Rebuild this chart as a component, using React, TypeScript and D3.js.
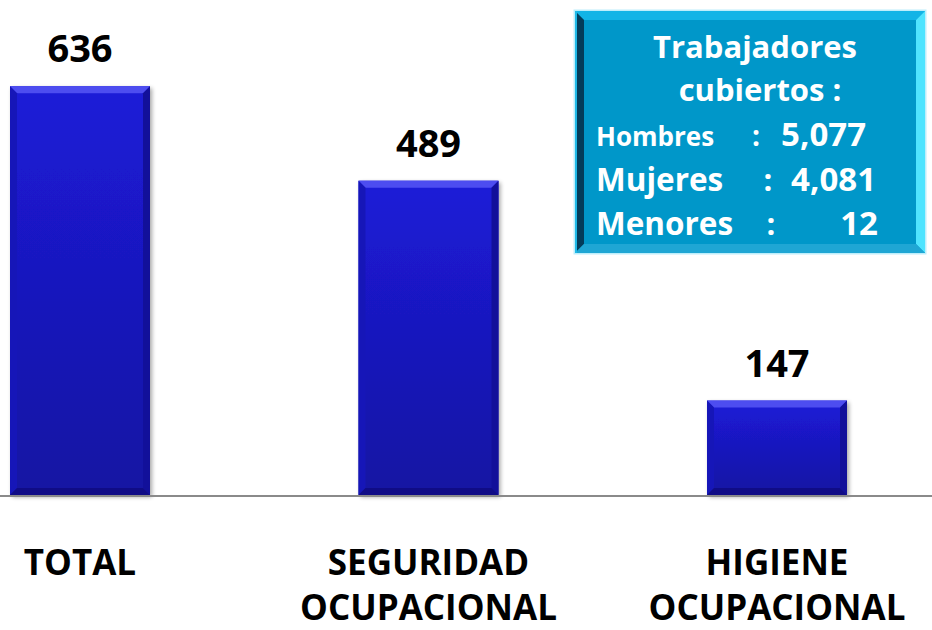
import React from "react";
import * as d3 from "d3";

const categories = ["TOTAL", "SEGURIDAD OCUPACIONAL", "HIGIENE OCUPACIONAL"];
const categoryLines = [["TOTAL"], ["SEGURIDAD", "OCUPACIONAL"], ["HIGIENE", "OCUPACIONAL"]];
const values = [636, 489, 147];
const legendTitle = ["Trabajadores", "cubiertos :"];
const legendLabels = ["Hombres", "Mujeres", "Menores"];
const legendValues = ["5,077", "4,081", "12"];

const W = 932;
const H = 630;
const FONT = "'Open Sans', 'DejaVu Sans', sans-serif";

export default function App() {
  const x = d3.scalePoint<string>().domain(categories).range([80, 777]);
  const y = d3.scaleLinear().domain([0, 700]).range([495, 45]);
  const bw = 140;
  const bv = 7;
  const base = y(0);

  // legend box
  const lx0 = 575, lx1 = 925, ly0 = 11, ly1 = 253, lb = 9;

  return (
    <svg width={W} height={H} style={{ display: "block", position: "absolute", left: 0, top: 0 }} fontFamily={FONT}>
      <defs>
        <linearGradient id="barGrad" x1="0" y1="0" x2="0" y2="1">
          <stop offset="0" stopColor="#1c1cd8" />
          <stop offset="1" stopColor="#1512a2" />
        </linearGradient>
        <filter id="shadow" x="-10%" y="-10%" width="130%" height="130%">
          <feGaussianBlur in="SourceAlpha" stdDeviation="2" />
          <feOffset dx="2" dy="2" result="b" />
          <feComponentTransfer><feFuncA type="linear" slope="0.35" /></feComponentTransfer>
          <feMerge><feMergeNode /><feMergeNode in="SourceGraphic" /></feMerge>
        </filter>
      </defs>
      <rect x={0} y={0} width={W} height={H} fill="#ffffff" />

      {categories.map((c, i) => {
        const cx = x(c) as number;
        const x0 = cx - bw / 2;
        const x1 = cx + bw / 2;
        const top = y(values[i]);
        return (
          <g key={c}>
            <g filter="url(#shadow)">
              <rect x={x0} y={top} width={bw} height={base - top} fill="url(#barGrad)" />
            </g>
            <polygon points={`${x0},${top} ${x1},${top} ${x1 - bv},${top + bv} ${x0 + bv},${top + bv}`} fill="#5656f4" opacity={0.85} />
            <polygon points={`${x0},${top} ${x0 + bv},${top + bv} ${x0 + bv},${base - bv} ${x0},${base}`} fill="#1616b8" />
            <polygon points={`${x1},${top} ${x1 - bv},${top + bv} ${x1 - bv},${base - bv} ${x1},${base}`} fill="#12109a" />
            <polygon points={`${x0},${base} ${x0 + bv},${base - bv} ${x1 - bv},${base - bv} ${x1},${base}`} fill="#100c86" />
            <text x={cx} y={top - 24} textAnchor="middle" fontSize={38} fontWeight={700} fill="#000">
              {values[i]}
            </text>
            {categoryLines[i].map((ln, j) => (
              <text key={j} x={cx} y={575 + j * 45} textAnchor="middle" fontSize={35} fontWeight={700} fill="#000">
                {ln}
              </text>
            ))}
          </g>
        );
      })}

      <line x1={0} x2={W} y1={base + 1} y2={base + 1} stroke="#8a8a8a" strokeWidth={2} />

      {/* legend box */}
      <rect x={lx0 - 1.5} y={ly0 - 1.5} width={lx1 - lx0 + 3} height={ly1 - ly0 + 3} fill="#bdeefb" />
      <rect x={lx0} y={ly0} width={lx1 - lx0} height={ly1 - ly0} fill="#0097c9" />
      <polygon points={`${lx0},${ly0} ${lx1},${ly0} ${lx1 - lb},${ly0 + lb} ${lx0 + lb},${ly0 + lb}`} fill="#12b4e6" />
      <polygon points={`${lx0},${ly0} ${lx0 + lb},${ly0 + lb} ${lx0 + lb},${ly1 - lb} ${lx0},${ly1}`} fill="#033c5a" />
      <polygon points={`${lx1},${ly0} ${lx1 - lb},${ly0 + lb} ${lx1 - lb},${ly1 - lb} ${lx1},${ly1}`} fill="#4fe4ff" />
      <polygon points={`${lx0},${ly1} ${lx0 + lb},${ly1 - lb} ${lx1 - lb},${ly1 - lb} ${lx1},${ly1}`} fill="#1fa6d4" />
      <line x1={lx0 + 1} x2={lx0 + 1} y1={ly0} y2={ly1} stroke="#1eb9e8" strokeWidth={2} />

      <g fill="#ffffff" fontWeight={700}>
        <text x={755} y={58} textAnchor="middle" fontSize={31}>{legendTitle[0]}</text>
        <text x={760} y={101} textAnchor="middle" fontSize={31}>{legendTitle[1]}</text>

        <text x={596} y={146} fontSize={26}>{legendLabels[0]}</text>
        <text x={756} y={146} textAnchor="middle" fontSize={28}>:</text>
        <text x={866} y={146} textAnchor="end" fontSize={33}>{legendValues[0]}</text>

        <text x={596} y={191} fontSize={31.5}>{legendLabels[1]}</text>
        <text x={768} y={191} textAnchor="middle" fontSize={31}>:</text>
        <text x={876} y={191} textAnchor="end" fontSize={33}>{legendValues[1]}</text>

        <text x={596} y={235} fontSize={31.5}>{legendLabels[2]}</text>
        <text x={771} y={235} textAnchor="middle" fontSize={31}>:</text>
        <text x={878} y={235} textAnchor="end" fontSize={33}>{legendValues[2]}</text>
      </g>
    </svg>
  );
}
